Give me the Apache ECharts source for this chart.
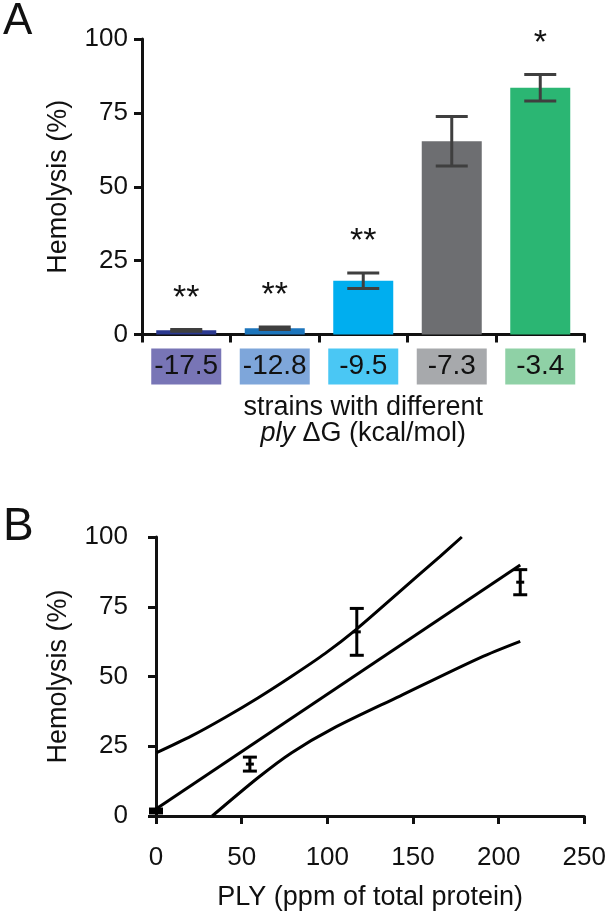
<!DOCTYPE html>
<html>
<head>
<meta charset="utf-8">
<script src="https://cdn.jsdelivr.net/npm/echarts@6/dist/echarts.min.js"></script>
<style>
  html, body { margin: 0; padding: 0; background: #fff; }
  #myChart { width: 609px; height: 912px; }
</style>
</head>
<body>
<div id="myChart"></div>
<script>
// --- panel A: hemolysis of each strain
var strainDG = ['-17.5', '-12.8', '-9.5', '-7.3', '-3.4'];
var hemoMean = [1.4, 2.1, 18.2, 65.4, 83.5];
var hemoErr = [0.3, 0.4, 2.6, 8.4, 4.5];
var stars = ['**', '**', '**', '', '*'];
var barColors = ['#2b3990', '#1c75bc', '#00aeef', '#6d6e71', '#2bb673'];
var boxColors = ['#7875b6', '#7ea6da', '#4ac7f4', '#a7a9ac', '#8fd1a6'];

// --- panel B: hemolysis vs PLY amount
var plyX = [0, 0, 54.8, 117.2, 212.6];
var plyMean = [1.4, 2.1, 18.6, 66.0, 83.8];
var plyErr = [0.3, 0.4, 2.5, 8.4, 4.5];
var fitLine = [[0, 2.5], [212.6, 90]];
var upperBand = [[0.4, 22.7], [20.8, 28.7], [40.3, 35.3], [59.7, 42.4], [79.2, 50.1],
                 [98.6, 58.2], [117.1, 67.0], [142.4, 80.5], [165.7, 93.0], [178.5, 100]];
var lowerBand = [[32.8, 0], [59.7, 13.8], [79.2, 22.7], [103.4, 31.4], [142.4, 43.0],
                 [189.0, 56.7], [212.6, 62.6]];

var FONT = '"Liberation Sans", Arial, Helvetica, sans-serif';

var myChart = echarts.init(document.getElementById('myChart'));

// rich styles for the coloured boxes under the bars
var boxRich = {};
strainDG.forEach(function (s, i) {
  boxRich['b' + i] = {
    backgroundColor: boxColors[i],
    width: 70, height: 36, lineHeight: 36,
    align: 'center', fontSize: 28, color: '#111', fontFamily: FONT
  };
});

function axisLine() {
  return { show: true, lineStyle: { color: '#111', width: 3 } };
}
function axisTick(len) {
  return { show: true, length: len, lineStyle: { color: '#111', width: 3 } };
}

var option = {
  animation: false,
  textStyle: { fontFamily: FONT },
  graphic: [
    { type: 'text', left: 3, top: 0, style: { text: 'A', font: '44px ' + FONT, fill: '#111' } },
    { type: 'text', left: 3, top: 504, style: { text: 'B', font: '46px ' + FONT, fill: '#111' } }
  ],
  grid: [
    { left: 142, top: 39, width: 442.5, height: 295.5 },
    { left: 156, top: 537, width: 429, height: 280 }
  ],
  xAxis: [
    {
      gridIndex: 0, type: 'category', data: strainDG,
      axisLine: axisLine(), axisTick: axisTick(8), splitLine: { show: false },
      axisLabel: {
        margin: 14, interval: 0,
        formatter: function (v, i) { return '{b' + i + '|' + v + '}'; },
        rich: boxRich
      },
      name: 'strains with different\n{i|ply} ΔG (kcal/mol)',
      nameLocation: 'middle', nameGap: 60,
      nameTextStyle: {
        fontSize: 27, color: '#111', lineHeight: 26,
        rich: { i: { fontStyle: 'italic', fontSize: 27, lineHeight: 26, color: '#111' } }
      }
    },
    {
      gridIndex: 1, type: 'value', min: 0, max: 250, interval: 50, offset: 15,
      axisLine: axisLine(), axisTick: axisTick(8), splitLine: { show: false },
      axisLabel: { fontSize: 26, color: '#111', margin: 14 },
      name: 'PLY (ppm of total protein)', nameLocation: 'middle', nameGap: 53,
      nameTextStyle: { fontSize: 27, color: '#111' }
    }
  ],
  yAxis: [
    {
      gridIndex: 0, type: 'value', min: 0, max: 100, interval: 25,
      axisLine: axisLine(), axisTick: axisTick(8), splitLine: { show: false },
      axisLabel: { fontSize: 26, color: '#111', margin: 14 },
      name: 'Hemolysis (%)', nameLocation: 'middle', nameGap: 70,
      nameTextStyle: { fontSize: 27, color: '#111' }
    },
    {
      gridIndex: 1, type: 'value', min: 0, max: 100, interval: 25, offset: 14,
      axisLine: axisLine(), axisTick: axisTick(8), splitLine: { show: false },
      axisLabel: { fontSize: 26, color: '#111', margin: 14 },
      name: 'Hemolysis (%)', nameLocation: 'middle', nameGap: 70,
      nameTextStyle: { fontSize: 27, color: '#111' }
    }
  ],
  series: [
    {
      type: 'bar', xAxisIndex: 0, yAxisIndex: 0, barWidth: 60,
      data: hemoMean.map(function (v, i) {
        return { value: v, itemStyle: { color: barColors[i] } };
      })
    },
    {
      // error bars + significance stars for panel A
      type: 'custom', xAxisIndex: 0, yAxisIndex: 0, z: 5,
      data: hemoMean.map(function (v, i) { return [i, v - hemoErr[i], v + hemoErr[i]]; }),
      renderItem: function (params, api) {
        var idx = api.value(0);
        var lo = api.coord([idx, api.value(1)]);
        var hi = api.coord([idx, api.value(2)]);
        var hw = 16;
        var st = { stroke: '#3f3f3f', lineWidth: 3 };
        return {
          type: 'group',
          children: [
            { type: 'line', shape: { x1: hi[0], y1: hi[1], x2: lo[0], y2: lo[1] }, style: st },
            { type: 'line', shape: { x1: hi[0] - hw, y1: hi[1], x2: hi[0] + hw, y2: hi[1] }, style: st },
            { type: 'line', shape: { x1: lo[0] - hw, y1: lo[1], x2: lo[0] + hw, y2: lo[1] }, style: st },
            {
              type: 'text',
              style: {
                text: stars[idx], x: hi[0], y: hi[1] - 14,
                font: '34px ' + FONT, fill: '#111',
                align: 'center', verticalAlign: 'bottom',
                textAlign: 'center', textVerticalAlign: 'bottom'
              }
            }
          ]
        };
      }
    },
    {
      type: 'line', xAxisIndex: 1, yAxisIndex: 1, data: fitLine, symbol: 'none',
      lineStyle: { color: '#000', width: 3 }
    },
    {
      type: 'line', xAxisIndex: 1, yAxisIndex: 1, data: upperBand, symbol: 'none', smooth: 0.3,
      lineStyle: { color: '#000', width: 3 }
    },
    {
      type: 'line', xAxisIndex: 1, yAxisIndex: 1, data: lowerBand, symbol: 'none', smooth: 0.3,
      lineStyle: { color: '#000', width: 3 }
    },
    {
      // mean +/- error for panel B
      type: 'custom', xAxisIndex: 1, yAxisIndex: 1, z: 5,
      data: plyX.map(function (x, i) { return [x, plyMean[i], plyMean[i] - plyErr[i], plyMean[i] + plyErr[i]]; }),
      renderItem: function (params, api) {
        var m = api.coord([api.value(0), api.value(1)]);
        var lo = api.coord([api.value(0), api.value(2)]);
        var hi = api.coord([api.value(0), api.value(3)]);
        var hw = 7;
        var st = { stroke: '#000', lineWidth: 3 };
        return {
          type: 'group',
          children: [
            { type: 'line', shape: { x1: hi[0], y1: hi[1], x2: lo[0], y2: lo[1] }, style: st },
            { type: 'line', shape: { x1: hi[0] - hw, y1: hi[1], x2: hi[0] + hw, y2: hi[1] }, style: st },
            { type: 'line', shape: { x1: lo[0] - hw, y1: lo[1], x2: lo[0] + hw, y2: lo[1] }, style: st },
            { type: 'line', shape: { x1: m[0] - 4, y1: m[1], x2: m[0] + 4, y2: m[1] }, style: st }
          ]
        };
      }
    }
  ]
};

myChart.setOption(option);
</script>
</body>
</html>
